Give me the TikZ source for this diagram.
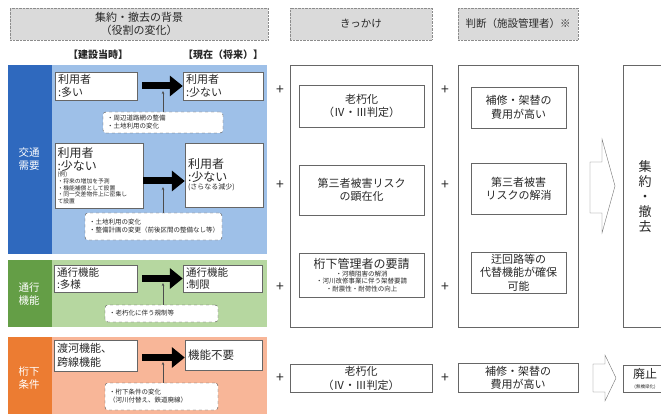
\documentclass[tikz,border=0pt]{standalone}
\usepackage{fontspec}
\setmainfont{Noto Sans CJK JP}
\usetikzlibrary{arrows.meta}

\definecolor{bluelt}{RGB}{158,192,232}
\definecolor{bluedk}{RGB}{47,105,190}
\definecolor{greenlt}{RGB}{182,215,160}
\definecolor{greendk}{RGB}{100,158,70}
\definecolor{orangelt}{RGB}{248,182,152}
\definecolor{orangedk}{RGB}{236,124,50}
\definecolor{hdrgray}{RGB}{218,218,218}
\definecolor{ink}{RGB}{40,40,40}

\begin{document}
\begin{tikzpicture}[x=1pt,y=-1pt,
  hdr/.style={draw=black!45,densely dotted,fill=hdrgray,inner sep=0pt,align=center,text=ink,font=\fontsize{10.5}{13}\selectfont},
  box/.style={draw=black!60,fill=white,inner sep=0pt,align=center,text=ink,font=\fontsize{11}{13.5}\selectfont},
  lbox/.style={box,align=left},
  note/.style={draw=black!70,dashed,rounded corners=3pt,fill=white,inner sep=0pt,align=left,text=ink,font=\fontsize{6.5}{8}\selectfont},
  bigarr/.style={line width=7pt,-{Triangle[length=13pt,width=20pt]}},
  uparr/.style={draw=black!70,thin,-{Stealth[length=3pt,width=2.5pt]}},
  plus/.style={text=ink,font=\fontsize{14}{14}\selectfont},
  strip/.style={text=white,align=center,font=\fontsize{10.5}{13}\selectfont}]
\useasboundingbox (0,0) rectangle (661,414);
\clip (0,0) rectangle (661,414);

% background column
\node[hdr,minimum width=258,minimum height=32,font=\fontsize{11}{13.5}\selectfont] (hdrA) at (139,24) {集約・撤去の背景\\（役割の変化）};
\node[text=ink,font=\fontsize{10}{12}\selectfont\bfseries] (past) at (98,55) {【建設当時】};
\node[text=ink,font=\fontsize{10}{12}\selectfont\bfseries] (now) at (223,55) {【現在（将来）】};

% panels
\fill[bluelt] (8,65) rectangle (267,254);
\fill[bluedk] (8,65) rectangle (52,254);
\fill[greenlt] (8,260) rectangle (267,327);
\fill[greendk] (8,260) rectangle (52,327);
\fill[orangelt] (8,337) rectangle (267,420);
\fill[orangedk] (8,337) rectangle (52,420);
\node[strip] (trafic) at (29,159) {交通\\需要};
\node[strip] (pass) at (29,294) {通行\\機能};
\node[strip] (under) at (29,378) {桁下\\条件};

% traffic demand
\node[lbox,minimum width=82,minimum height=28,text width=76] (use1) at (96,86) {利用者\\:多い};
\node[lbox,minimum width=80,minimum height=28,text width=74] (now1) at (223,86) {利用者\\:少ない};
\draw[bigarr,shorten <=5pt] (use1) -- (now1);
\node[note,minimum width=120,minimum height=21,text width=112] (note1) at (163,122.5) {・周辺道路網の整備\\・土地利用の変化};
\coordinate (a1) at (163,91);
\draw[uparr] (note1.north) -- (a1);

\node[lbox,minimum width=88,minimum height=65,text width=83] (use2) at (99,175.5)
  {\fontsize{12}{13}\selectfont 利用者\\:少ない\par
   {\fontsize{5.8}{6.6}\selectfont (例)\\・将来の増加を予測\\・機能補償として設置\\・同一交差物件上に密集し\\て設置\par}};
\node[lbox,minimum width=78,minimum height=64,text width=72] (now2) at (224,175)
  {\fontsize{12}{13}\selectfont 利用者\\:少ない\par
   {\fontsize{7}{8}\selectfont (さらなる減少)\par}};
\draw[bigarr] ([yshift=-5.5pt]use2.east) -- ([yshift=-6pt]now2.west);
\node[note,minimum width=137,minimum height=27,text width=129] (note2) at (153.5,226.5) {・土地利用の変化\\・整備計画の変更（前後区間の整備なし等）};
\coordinate (a2) at (163,187);
\draw[uparr] (note2.north -| a2) -- (a2);

% passing function
\node[lbox,minimum width=83,minimum height=27,text width=77,font=\fontsize{10.5}{12.5}\selectfont] (use3) at (95.5,278.5) {通行機能\\:多様};
\node[lbox,minimum width=79,minimum height=27,text width=73,font=\fontsize{10.5}{12.5}\selectfont] (now3) at (222.5,278.5) {通行機能\\:制限};
\draw[bigarr,shorten <=5pt] (use3) -- (now3);
\node[note,minimum width=113,minimum height=17,text width=105] (note3) at (161.5,313.5) {・老朽化に伴う規制等};
\coordinate (a3) at (163,283);
\draw[uparr] (note3.north -| a3) -- (a3);

% under-girder condition
\node[lbox,minimum width=83,minimum height=31,text width=77] (use4) at (95.5,355.5) {渡河機能、\\跨線機能};
\node[lbox,minimum width=77,minimum height=30,text width=71,font=\fontsize{11.5}{13}\selectfont] (now4) at (223.5,355) {機能不要};
\draw[bigarr,shorten <=5pt] ([yshift=-2pt]use4.east) -- ([yshift=-2.5pt]now4.west);
\node[note,minimum width=113,minimum height=27,text width=105] (note4) at (161.5,396.5) {・桁下条件の変化\\（河川付替え、鉄道廃線）};
\coordinate (a4) at (163,362);
\draw[uparr] (note4.north -| a4) -- (a4);

% plus signs
\foreach \y [count=\i] in {90,185,287,378}{
  \node[plus] (plusA\i) at (280,\y) {+};
  \node[plus] (plusB\i) at (445,\y) {+};
}

% trigger column
\node[hdr,minimum width=142,minimum height=32] (hdrB) at (361,24) {きっかけ};
\node[box,minimum width=142,minimum height=262] (frameB) at (361,196) {};
\node[box,minimum width=125,minimum height=42] (kick1) at (361.5,106) {老朽化\\（Ⅳ・Ⅲ判定）};
\node[box,minimum width=125,minimum height=50] (kick2) at (361.5,190) {第三者被害リスク\\の顕在化};
\node[box,minimum width=125,minimum height=44,text width=121] (kick3) at (361.5,275)
  {{\fontsize{12}{13.5}\selectfont 桁下管理者の要請\par}
   {\fontsize{6.5}{7.6}\selectfont ・河積阻害の解消\\・河川改修事業に伴う架替要請\\・耐震性・耐荷性の向上\par}};
\node[box,minimum width=142,minimum height=28] (kick4) at (361,378.5) {老朽化\\（Ⅳ・Ⅲ判定）};

% judgement column
\node[hdr,minimum width=120,minimum height=32] (hdrC) at (518,24) {判断（施設管理者）※};
\node[box,minimum width=120,minimum height=262] (frameC) at (518,196) {};
\node[box,minimum width=95,minimum height=41] (judge1) at (518.5,107.5) {補修・架替の\\費用が高い};
\node[box,minimum width=95,minimum height=51] (judge2) at (518.5,189) {第三者被害\\リスクの解消};
\node[box,minimum width=95,minimum height=41] (judge3) at (518.5,272.5) {迂回路等の\\代替機能が確保\\可能};
\node[box,minimum width=120,minimum height=29] (judge4) at (518,378) {補修・架替の\\費用が高い};

% block arrows
\draw[draw=black!55,fill=white] (590,162) -- (602,162) -- (602,139) -- (615,186)
  -- (602,233) -- (602,213) -- (590,213) -- cycle;
\draw[draw=black!55,fill=white] (593,364) -- (605,364) -- (605,355) -- (616,378)
  -- (605,401) -- (605,392) -- (593,392) -- cycle;

% result
\node[box,minimum width=88,minimum height=262] (resultA) at (667,196) {};
\node[text=ink,align=center,font=\fontsize{13}{15}\selectfont] (resultAtxt) at (645,197) {集\\約\\・\\撤\\去};
\node[box,minimum width=88,minimum height=27] (resultB) at (667,379) {};
\node[text=ink,align=center,inner sep=0pt] (resultBtxt) at (645,379)
  {{\fontsize{12}{13}\selectfont 廃止}\\[-2pt]{\fontsize{4.5}{5}\selectfont (無橋梁化)}};
\end{tikzpicture}
\end{document}
